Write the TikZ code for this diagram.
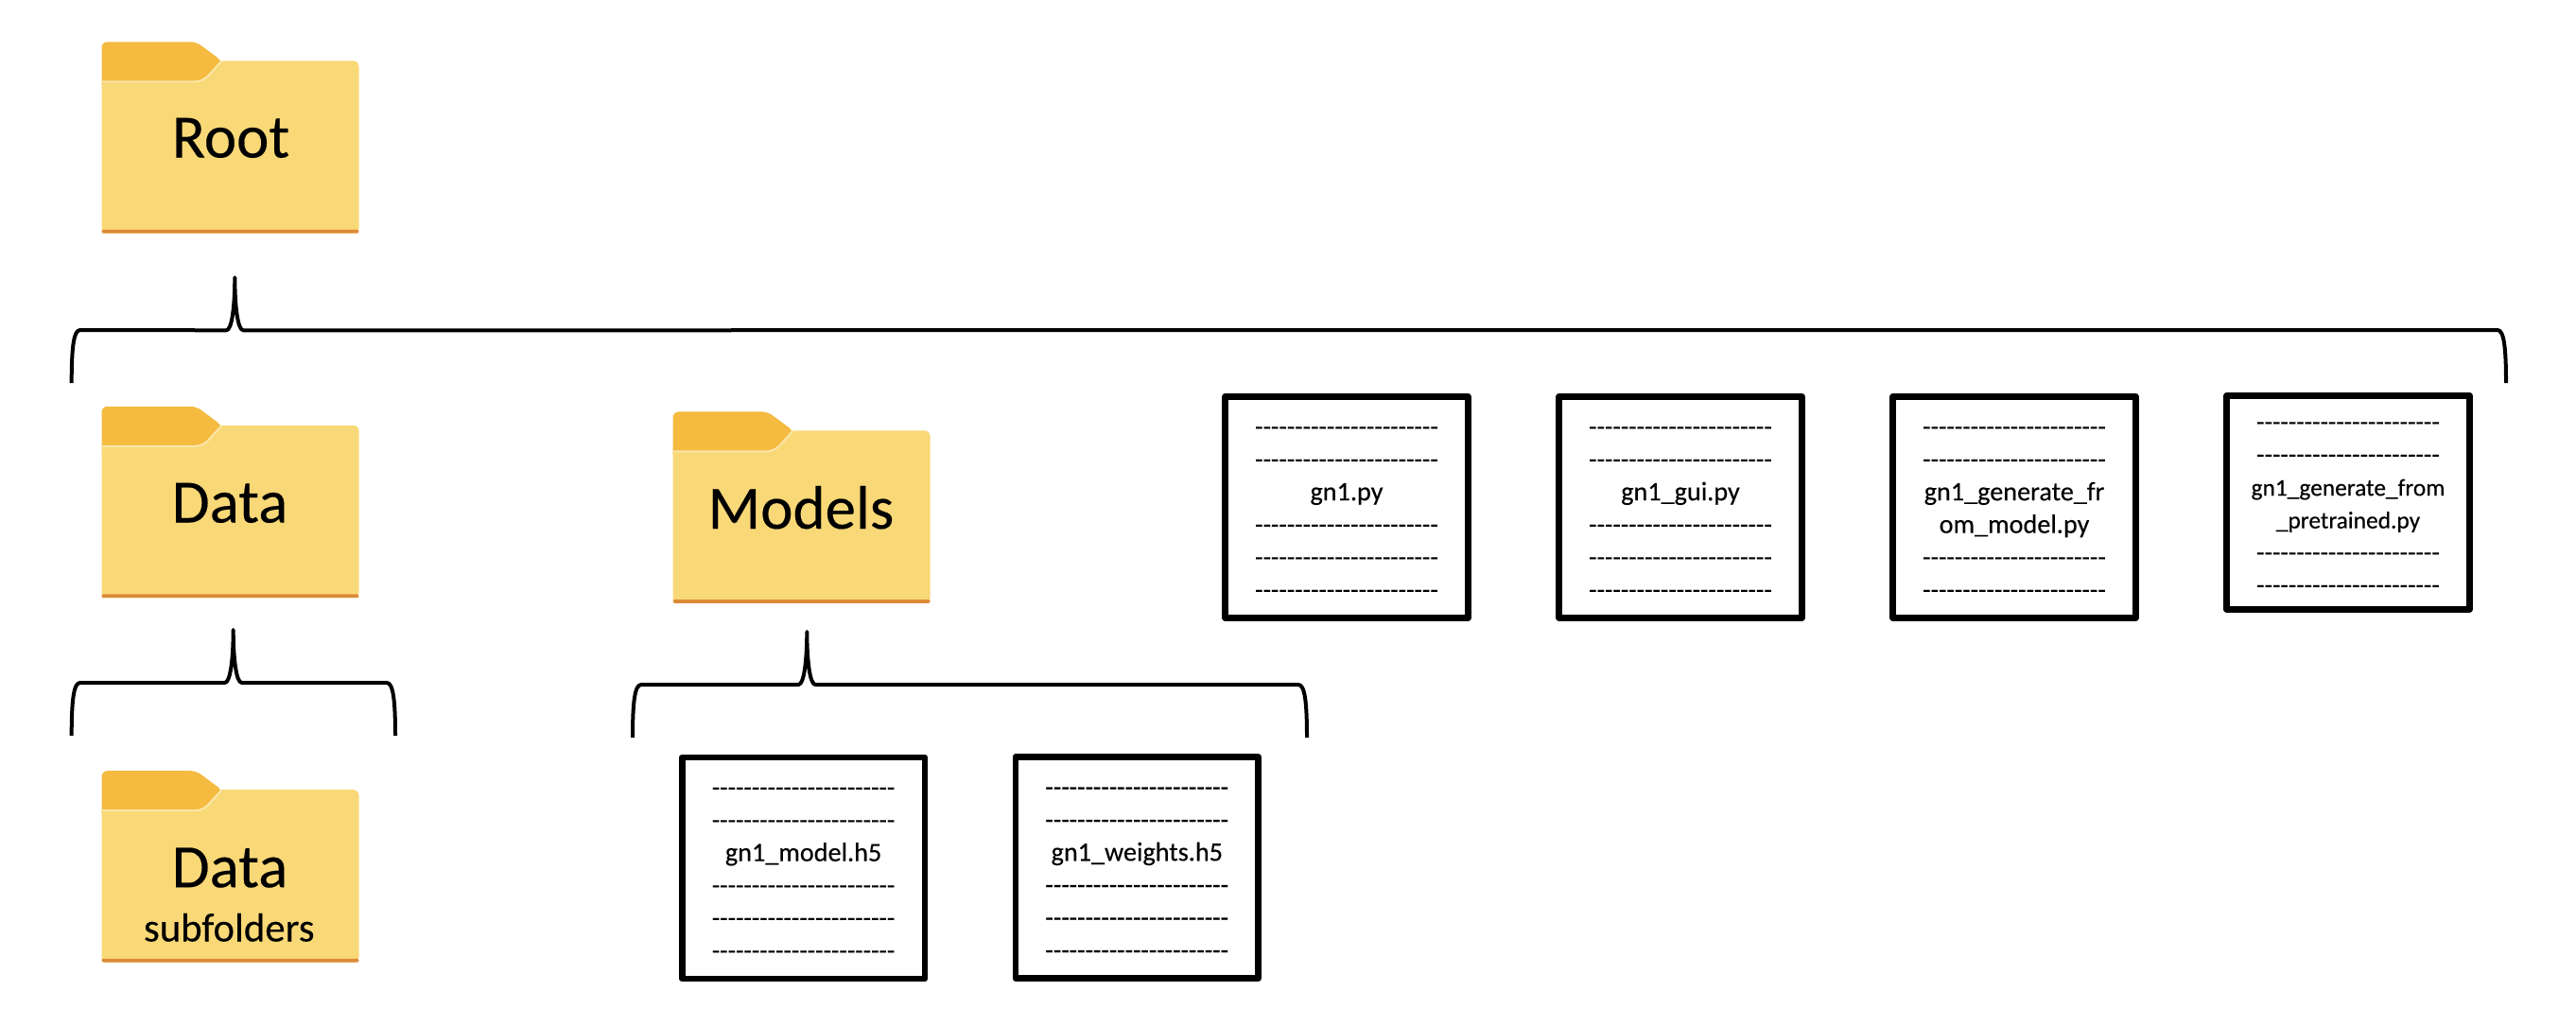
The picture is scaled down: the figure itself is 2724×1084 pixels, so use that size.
\documentclass[tikz,border=0pt]{standalone}
\usepackage{fontspec}
\usetikzlibrary{calc}
\newfontfamily\labelfont[FakeBold=0.25]{Carlito}

\definecolor{folderbody}{HTML}{F9D877}
\definecolor{foldertab}{HTML}{F4BB40}
\definecolor{folderedge}{HTML}{DC8A38}
\definecolor{folderlight}{HTML}{FBE6A8}

\tikzstyle{rect} = [rectangle, draw=black, line width=3.35pt, line join=round, fill=white, minimum height=117pt, minimum width=128.4pt, inner sep=0pt, align=center, font=\labelfont\fontsize{14.1}{17.25}\selectfont]
\tikzstyle{bigname} = [anchor=base, inner sep=0pt, font=\labelfont\fontsize{32.5}{36}\selectfont]
\tikzstyle{smallname} = [anchor=base, inner sep=0pt, font=\labelfont\fontsize{21.4}{25}\selectfont]
\tikzstyle{curly} = [draw=black, line width=2pt, line join=round]

\tikzset{
    folder/.pic={
        \fill[foldertab, rounded corners=3pt] (0,50) -- (0,0) -- (100,0) -- (127,20) -- (127,50) -- cycle;
        \fill[folderbody] (0,42) [rounded corners=4pt] -- (107,42) [sharp corners] -- (127,20) [rounded corners=3pt] -- (272,20) -- (272,202.4) [rounded corners=1.5pt] -- (0,202.4) [sharp corners] -- cycle;
        \fill[folderedge, rounded corners=1pt] (0,198.6) rectangle (272,202.4);
        \draw[folderlight, line width=1pt] (0,42) [rounded corners=4pt] -- (107,42) [sharp corners] -- (127,20);
    }
}

\newcommand{\dashrow}{{\fontsize{13.75}{17.25}\selectfont\rule{0pt}{10pt}-----------------------}}
\newcommand{\tightname}{\fontsize{12.7}{15.4}\selectfont}
\newcommand{\curlyline}[3]{
    \draw[curly] (#2) .. controls ($(#2)+(0,-36)$) and ($(#2)+(2,-56)$) .. ($(#2)+(9,-56)$)
        -- ($(#1)+(-9,56)$) .. controls ($(#1)+(-3,56)$) and ($(#1)+(0,30)$) .. (#1)
        .. controls ($(#1)+(0,30)$) and ($(#1)+(3,56)$) .. ($(#1)+(9,56)$)
        -- ($(#3)+(-9,-56)$) .. controls ($(#3)+(-2,-56)$) and ($(#3)+(0,-36)$) .. (#3);
}

\begin{document}
\begin{tikzpicture}[x=0.5pt, y=-0.5pt]

    \useasboundingbox (0,0) rectangle (2724,1084);

    %% folders

    \pic (rootfolder) at (107.5,44.3) {folder};
    \pic (datafolder) at (107.5,429.8) {folder};
    \pic (subfolder) at (107.5,815.2) {folder};
    \pic (modelfolder) at (711.7,435.4) {folder};

    \node (root) [bigname] at (244,166.5) {Root};
    \node (data) [bigname] at (243,552.5) {Data};
    \node (models) [bigname] at (847,559) {Models};
    \node (subdata) [bigname] at (243,938.2) {Data};
    \node (subnames) [smallname] at (242.3,995.5) {subfolders};

    %% files

    \node (gnmain) [rect] at (1424,536.4) {\dashrow\\\dashrow\\gn1.py\\\dashrow\\\dashrow\\\dashrow};
    \node (gngui) [rect] at (1777,536.4) {\dashrow\\\dashrow\\gn1\_gui.py\\\dashrow\\\dashrow\\\dashrow};
    \node (gnmodel) [rect] at (2130,536.4) {\dashrow\\\dashrow\\gn1\_generate\_fr\\om\_model.py\\\dashrow\\\dashrow};
    \node (gnpre) [rect, minimum height=113pt] at (2483,531.4) {\dashrow\\\dashrow\\{\tightname gn1\_generate\_from}\\{\tightname \_pretrained.py}\\\dashrow\\\dashrow};

    \node (h5model) [rect] at (849.6,917.9) {\dashrow\\\dashrow\\gn1\_model.h5\\\dashrow\\\dashrow\\\dashrow};
    \node (h5weights) [rect] at (1202.3,917.5) {\dashrow\\\dashrow\\gn1\_weights.h5\\\dashrow\\\dashrow\\\dashrow};

    %% braces

    \coordinate (roottip) at (248.3,293.3);
    \coordinate (rootleft) at (75.7,405);
    \coordinate (rootright) at (2650,405);
    \curlyline{roottip}{rootleft}{rootright}

    \coordinate (datatip) at (246.7,666);
    \coordinate (dataleft) at (75.7,778);
    \coordinate (dataright) at (418,778);
    \curlyline{datatip}{dataleft}{dataright}

    \coordinate (modeltip) at (853.3,668);
    \coordinate (modelleft) at (669,780);
    \coordinate (modelright) at (1382,780);
    \curlyline{modeltip}{modelleft}{modelright}

\end{tikzpicture}
\end{document}
